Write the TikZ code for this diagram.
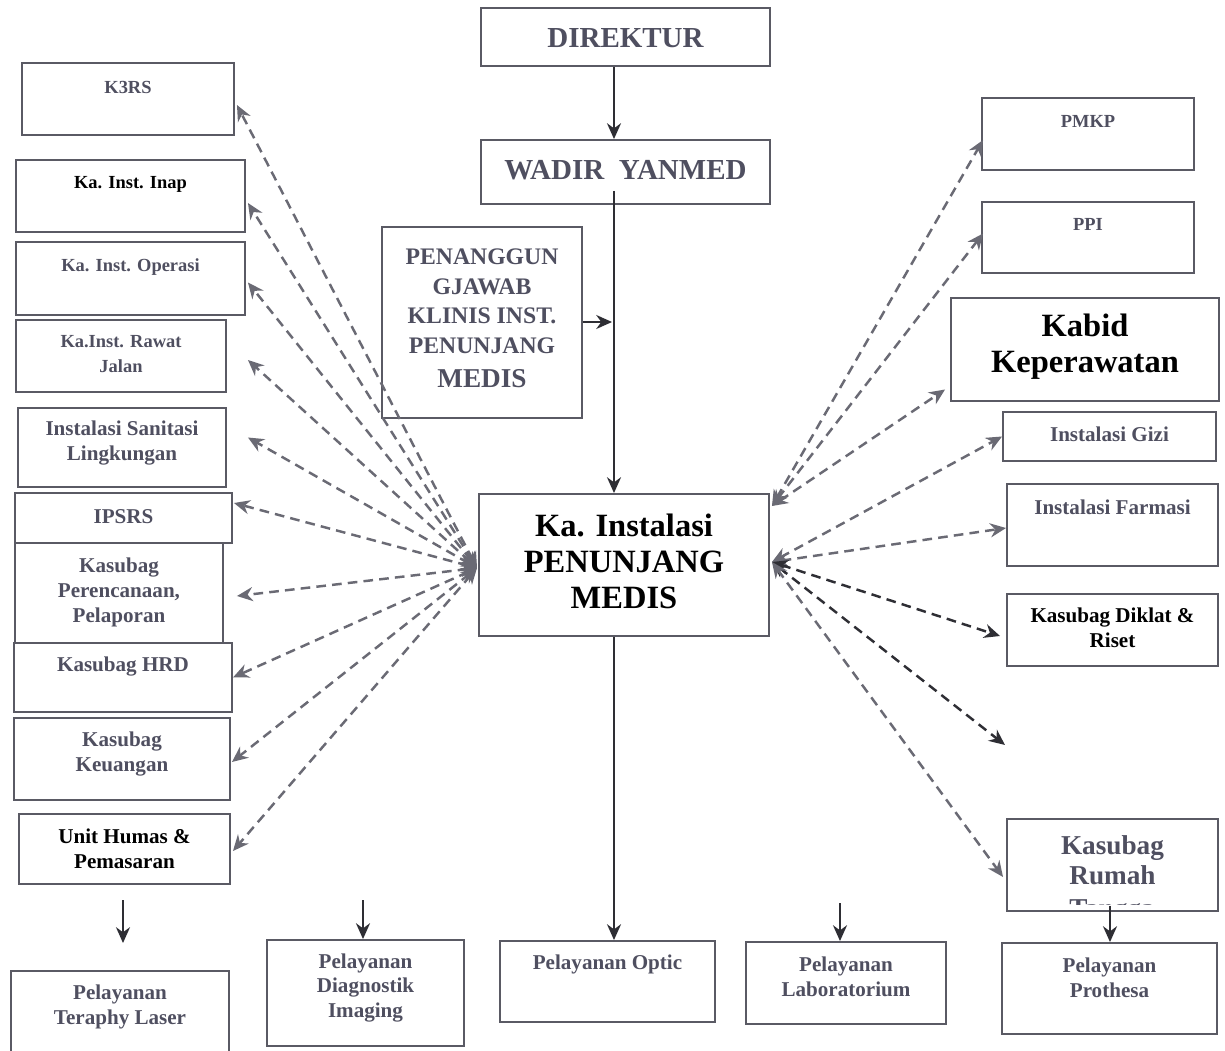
\documentclass[tikz,border=0pt]{standalone}
\usepackage{fontspec}
\setmainfont{Liberation Serif}
\usetikzlibrary{fit,calc,arrows.meta}
\definecolor{txtc}{HTML}{4F4F60}
\definecolor{boxc}{HTML}{5A5A64}
\definecolor{dashc}{HTML}{6A6A74}
\definecolor{darkc}{HTML}{2E2E34}
\newcommand\bx[8]{%
  \node[box, fit={(#2,#3)(#4,#5)}] (#1) {};
  \node[lbl,#7] (#1-t) at ({(#2+#4)/2},#6) {#8};}
\tikzset{
  box/.style={draw=boxc, line width=1.1pt, inner sep=0pt},
  lbl/.style={align=center, text=txtc, font=\bfseries\fontsize{12}{14.2}\selectfont, inner sep=0pt},
  dk/.style={text=black},
  sm/.style={font=\bfseries\fontsize{10.5}{14.2}\selectfont},
  mid/.style={font=\bfseries\fontsize{15.5}{17}\selectfont},
  big/.style={font=\bfseries\fontsize{18.5}{20.5}\selectfont},
  tip/.tip={Stealth[length=9pt,width=8pt]},
  dl/.style={draw=dashc, line width=1.4pt, dash pattern=on 5.5pt off 3.5pt, tip-tip},
  dld/.style={dl, draw=darkc},
  sl/.style={draw=darkc, line width=1.1pt, -{Stealth[length=9pt,width=8pt]}},
}
\begin{document}
\begin{tikzpicture}[x=0.02cm,y=-0.02cm]
\useasboundingbox[fill=white] (0,0) rectangle (1225,1051);
\coordinate (vx) at (614,0);
% top chain
\bx{dir}{481}{8}{770}{66}{38}{font=\bfseries\fontsize{16.5}{18}\selectfont}{DIREKTUR}
\bx{wadir}{481}{140}{770}{204}{170}{font=\bfseries\fontsize{16.5}{18}\selectfont}{WADIR\ \ YANMED}
\bx{pj}{382}{227}{582}{418}{318}{font=\bfseries\fontsize{13.5}{17}\selectfont}{PENANGGUN\\GJAWAB\\KLINIS INST.\\PENUNJANG\\[2pt]{\fontsize{15.5}{17}\selectfont MEDIS}}
\bx{ki}{479}{494}{769}{636}{561}{big,dk}{Ka. Instalasi\\PENUNJANG\\MEDIS}
% left column
\bx{k3}{22}{63}{234}{135}{87}{sm}{K3RS}
\bx{inap}{16}{160}{245}{232}{184}{sm,dk}{Ka. Inst. Inap}
\bx{op}{16}{242}{245}{315}{267}{sm}{Ka. Inst. Operasi}
\bx{rj}{16}{320}{226}{392}{354}{sm}{Ka.Inst. Rawat\\Jalan}
\bx{san}{18}{408}{226}{487}{443}{}{Instalasi Sanitasi\\Lingkungan}
\bx{ips}{15}{493}{232}{543}{517}{}{IPSRS}
\bx{per}{15}{543}{223}{643}{592}{}{Kasubag\\Perencanaan,\\Pelaporan}
\bx{hrd}{14}{643}{232}{712}{667}{}{Kasubag HRD}
\bx{keu}{14}{718}{230}{800}{754}{}{Kasubag\\Keuangan}
\bx{hum}{19}{814}{230}{884}{849}{dk}{Unit Humas \&\\Pemasaran}
% bottom row
\bx{las}{11}{971}{229}{1060}{1007}{}{Pelayanan\\Teraphy Laser}
\bx{dia}{267}{940}{464}{1046}{988}{}{Pelayanan\\Diagnostik\\Imaging}
\bx{opt}{500}{941}{715}{1022}{964}{}{Pelayanan Optic}
\bx{lab}{746}{942}{946}{1024}{977}{}{Pelayanan\\Laboratorium}
\bx{pro}{1002}{943}{1217}{1034}{978}{}{Pelayanan\\Prothesa}
% right column
\bx{pmkp}{982}{98}{1194}{170}{121}{sm}{PMKP}
\bx{ppi}{982}{202}{1194}{273}{224}{sm}{PPI}
\bx{kab}{951}{298}{1219}{401}{347}{big,dk}{Kabid\\Keperawatan}
\bx{gizi}{1003}{412}{1216}{461}{434}{}{Instalasi Gizi}
\bx{far}{1007}{484}{1218}{566}{507}{}{Instalasi Farmasi}
\bx{dik}{1007}{594}{1218}{666}{628}{dk}{Kasubag Diklat \&\\Riset}
\bx{rt}{1007}{819}{1218}{911}{860}{mid}{Kasubag\\Rumah}
\begin{scope}
\clip (1007,819) rectangle (1218,904);
\node[lbl,mid] (rt-t3) at (1112,912) {Tangga};
\end{scope}
% solid connectors
\draw[sl] (dir.south -| vx) -- (wadir.north -| vx);
\draw[sl, shorten <=-8pt] (wadir.south -| vx) -- (ki.north -| vx);
\coordinate (jn) at (612,322);
\draw[sl] (pj.east |- jn) -- (jn);
\draw[sl] (ki.south -| vx) -- (opt.north -| vx);
\coordinate (a1) at (123,900);
\coordinate (a1e) at (123,943);
\draw[sl] (a1) -- (a1e);
\coordinate (a2) at (363,900);
\draw[sl] (a2) -- (a2 |- dia.north);
\coordinate (a3) at (840,903);
\draw[sl] (a3) -- (a3 |- lab.north);
\coordinate (a4) at (1110,0);
\draw[sl, shorten <=-3.5pt] (rt.south -| a4) -- (pro.north -| a4);
% dashed connectors left
\coordinate (cl) at (477,568);
\draw[dl] (cl) -- ($(k3.east)+(2,6)$);
\draw[dl] (cl) -- ($(inap.east)+(2,7)$);
\draw[dl] (cl) -- ($(op.east)+(2,4)$);
\draw[dl] (cl) -- ($(rj.east)+(21,4)$);
\draw[dl] (cl) -- ($(san.east)+(21,-10)$);
\draw[dl] (cl) -- ($(ips.east)+(1,-15)$);
\draw[dl] (cl) -- ($(per.east)+(13,3)$);
\draw[dl] (cl) -- (hrd.east);
\draw[dl] (cl) -- ($(keu.east)+(1,3)$);
\draw[dl] (cl) -- ($(hum.east)+(2,2)$);
% dashed connectors right
\coordinate (cr1) at (772,506);
\coordinate (cr2) at (772,562);
\coordinate (dang) at (1005,745);
\draw[dl] (cr1) -- ($(pmkp.west)+(2,6)$);
\draw[dl] (cr1) -- ($(ppi.west)+(2,-4)$);
\draw[dl] (cr1) -- ($(kab.west)+(-5,40)$);
\draw[dl] (cr2) -- (gizi.west);
\draw[dl] (cr2) -- ($(far.west)+(0,3)$);
\draw[dld] (cr2) -- ($(dik.west)+(-6,6)$);
\draw[dld] (cr2) -- (dang);
\draw[dl] (cr2) -- ($(rt.west)+(-3,12)$);
\end{tikzpicture}
\end{document}
